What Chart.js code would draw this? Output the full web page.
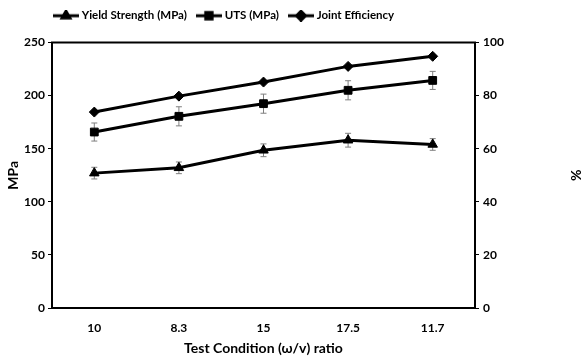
<!DOCTYPE html>
<html>
<head>
<meta charset="utf-8">
<script src="https://cdn.jsdelivr.net/npm/chart.js@4.4.1/dist/chart.umd.min.js"></script>
<style>
  html, body { margin: 0; padding: 0; background: #fff; }
  #wrap { width: 584px; height: 361px; }
</style>
</head>
<body>
<div id="wrap"><canvas id="chart" width="584" height="361"></canvas></div>
<script>
const conditions = ["10", "8.3", "15", "17.5", "11.7"];
const yieldStrength = [127, 132, 148.5, 158, 154];
const yieldErr = [5.5, 5.5, 6, 6.5, 5.5];
const uts = [165.7, 180.5, 192.4, 205, 214.3];
const utsErr = [8.5, 9, 9, 9, 8.5];
const jointEfficiency = [73.8, 79.8, 85.1, 91, 94.8];

Chart.defaults.font.family = "Lato, 'Open Sans', sans-serif";
Chart.defaults.font.weight = "bold";
Chart.defaults.font.size = 12;
Chart.defaults.color = "#000";

// legend swatch: short line with the marker in the middle
function legendIcon(style) {
  const c = document.createElement("canvas");
  c.width = 26; c.height = 12;
  const ctx = c.getContext("2d");
  ctx.strokeStyle = "#000";
  ctx.lineWidth = 3;
  ctx.beginPath(); ctx.moveTo(0, 6); ctx.lineTo(26, 6); ctx.stroke();
  Chart.helpers.drawPoint(ctx, { pointStyle: style, radius: 4.5, rotation: 0, borderWidth: 1 }, 13, 6);
  ctx.fillStyle = "#000";
  ctx.fill();
  return c;
}

const errorBars = {
  id: "errorBars",
  beforeDatasetsDraw(chart) {
    const ctx = chart.ctx;
    chart.data.datasets.forEach((ds, i) => {
      if (!ds.errors) return;
      const meta = chart.getDatasetMeta(i);
      const scale = chart.scales[ds.yAxisID];
      ctx.save();
      ctx.strokeStyle = "#7f7f7f";
      ctx.lineWidth = 1;
      meta.data.forEach((pt, j) => {
        const top = scale.getPixelForValue(ds.data[j] + ds.errors[j]);
        const bot = scale.getPixelForValue(ds.data[j] - ds.errors[j]);
        ctx.beginPath();
        ctx.moveTo(pt.x, top); ctx.lineTo(pt.x, bot);
        ctx.moveTo(pt.x - 3, top); ctx.lineTo(pt.x + 3, top);
        ctx.moveTo(pt.x - 3, bot); ctx.lineTo(pt.x + 3, bot);
        ctx.stroke();
      });
      ctx.restore();
    });
  }
};

const plotBox = {
  id: "plotBox",
  afterDraw(chart) {
    const a = chart.chartArea;
    const ctx = chart.ctx;
    ctx.save();
    ctx.strokeStyle = "#000";
    ctx.lineWidth = 2;
    ctx.strokeRect(a.left, a.top, a.right - a.left, a.bottom - a.top);
    ctx.restore();
  }
};

// nudge the legend up and to the left, like the original
const legendShift = {
  id: "legendShift",
  afterLayout(chart) {
    chart.legend.left -= 8;
    chart.legend.top -= 11;
  }
};

const common = {
  borderColor: "#000",
  backgroundColor: "#000",
  borderWidth: 3,
  pointBorderWidth: 1,
  tension: 0
};

new Chart(document.getElementById("chart"), {
  type: "line",
  data: {
    labels: conditions,
    datasets: [
      { ...common, label: "Yield Strength (MPa)", data: yieldStrength, errors: yieldErr, yAxisID: "y", pointStyle: "triangle", pointRadius: 5.5, icon: legendIcon("triangle") },
      { ...common, label: "UTS (MPa)", data: uts, errors: utsErr, yAxisID: "y", pointStyle: "rect", pointRadius: 5.5, icon: legendIcon("rect") },
      { ...common, label: "Joint Efficiency", data: jointEfficiency, yAxisID: "y1", pointStyle: "rectRot", pointRadius: 5, icon: legendIcon("rectRot") }
    ]
  },
  options: {
    responsive: false,
    animation: false,
    layout: { padding: { top: 9 } },
    plugins: {
      tooltip: { enabled: false },
      legend: {
        position: "top",
        align: "start",
        fullSize: false,
        labels: {
          usePointStyle: true,
          pointStyleWidth: 20,
          padding: 12,
          font: { size: 11.5, weight: "bold" },
          generateLabels(chart) {
            return chart.data.datasets.map((ds, i) => ({
              text: ds.label,
              pointStyle: ds.icon,
              datasetIndex: i,
              fillStyle: "#000",
              strokeStyle: "#000",
              lineWidth: 0,
              hidden: false
            }));
          }
        }
      }
    },
    scales: {
      x: {
        offset: true,
        grid: { display: false, drawTicks: false },
        border: { display: false },
        ticks: { padding: 13, font: { size: 12 } },
        title: { display: true, text: "Test Condition (ω/v) ratio", font: { size: 14, weight: "bold" }, padding: { top: 2, bottom: 4 } },
        afterFit(s) { s.height = 53; }
      },
      y: {
        position: "left",
        min: 0, max: 250,
        ticks: { stepSize: 50, padding: 3, font: { size: 12 } },
        grid: { drawOnChartArea: false, tickLength: 4, color: "#000" },
        border: { display: false },
        title: { display: true, text: "MPa", font: { size: 14, weight: "bold" }, padding: 5 },
        afterFit(s) { s.width = 52; }
      },
      y1: {
        position: "right",
        min: 0, max: 100,
        ticks: { stepSize: 20, padding: 4, font: { size: 12 } },
        grid: { drawOnChartArea: false, tickLength: 4, color: "#000" },
        border: { display: false },
        title: { display: true, text: "%", font: { size: 14, weight: "bold" }, padding: 0 },
        afterFit(s) { s.width = 109; }
      }
    }
  },
  plugins: [errorBars, plotBox, legendShift]
});
</script>
</body>
</html>
